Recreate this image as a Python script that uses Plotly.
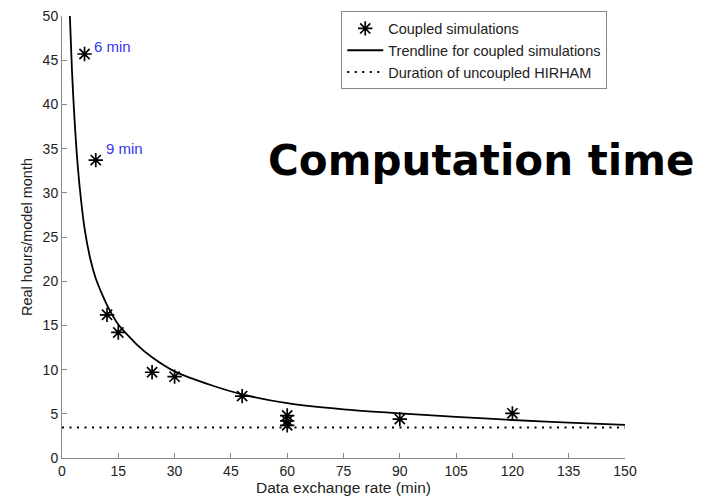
import plotly.graph_objects as go

# Coupled simulation measurements (data exchange rate in min, real hours / model month)
sim_rate = [6, 9, 12, 15, 24, 30, 48, 60, 60, 60, 90, 120]
sim_hours = [45.7, 33.7, 16.2, 14.2, 9.7, 9.2, 7.0, 4.8, 4.2, 3.7, 4.4, 5.05]

# Trendline
trend_rate = [2.1, 2.66, 3.2, 3.84, 4.72, 6.0, 7.5, 9.0, 10.5, 12, 15, 20, 24, 30, 40, 48, 60, 75, 90, 105, 120, 135, 150]
trend_hours = [50, 43.8, 39.3, 35.0, 30.6, 26.0, 22.6, 20.3, 18.7, 17.3, 15.1, 12.8, 11.4, 9.8, 8.2, 7.2, 6.2, 5.5, 5.05, 4.65, 4.3, 4.0, 3.75]

# Uncoupled HIRHAM duration
uncoupled_rate = [0, 150]
uncoupled_hours = [3.45, 3.45]

x_ticks = list(range(0, 151, 15))
y_ticks = list(range(0, 51, 5))

FONT = "Liberation Sans, Arial, Helvetica"

fig = go.Figure()
fig.add_trace(go.Scatter(
    x=sim_rate, y=sim_hours, mode="markers", name="Coupled simulations",
    marker=dict(symbol="asterisk-open", size=12, color="black",
                line=dict(color="black", width=1.7)),
    cliponaxis=False,
))
fig.add_trace(go.Scatter(
    x=trend_rate, y=trend_hours, mode="lines", name="Trendline for coupled simulations",
    line=dict(color="black", width=1.8, shape="spline", smoothing=0.6),
))
fig.add_trace(go.Scatter(
    x=uncoupled_rate, y=uncoupled_hours, mode="lines", name="Duration of uncoupled HIRHAM",
    line=dict(color="black", width=2, dash="2px,5.5px"),
))

tick_font = dict(family=FONT, size=14, color="#222")
fig.update_layout(
    width=710, height=496,
    margin=dict(l=62, r=85, t=15, b=38),
    paper_bgcolor="white", plot_bgcolor="white",
    showlegend=True,
    legend=dict(
        x=0.496, y=1.008, xanchor="left", yanchor="top",
        bgcolor="white", bordercolor="#888", borderwidth=1,
        font=dict(family=FONT, size=14.5, color="#222"),
        tracegroupgap=0, itemwidth=36,
    ),
    xaxis=dict(
        range=[0, 150], tickvals=x_ticks, ticks="inside", ticklen=5,
        tickcolor="#888", showline=True, linecolor="#888", linewidth=1,
        showgrid=False, zeroline=False, tickfont=tick_font, automargin=False,
        title=dict(text="Data exchange rate (min)",
                   font=dict(family=FONT, size=15.5, color="#222"), standoff=2),
    ),
    yaxis=dict(
        range=[0, 50], tickvals=y_ticks, ticks="inside", ticklen=5,
        tickcolor="#888", showline=True, linecolor="#888", linewidth=1,
        showgrid=False, zeroline=False, tickfont=tick_font, automargin=False,
        title=dict(text="Real hours/model month",
                   font=dict(family=FONT, size=14.5, color="#222"), standoff=6),
    ),
    annotations=[
        dict(x=7.9, y=46.6, xref="x", yref="y", text="6 min", showarrow=False,
             xanchor="left", yanchor="middle",
             font=dict(family=FONT, size=15, color="#3535ee")),
        dict(x=11.3, y=35.0, xref="x", yref="y", text="9 min", showarrow=False,
             xanchor="left", yanchor="middle",
             font=dict(family=FONT, size=15, color="#3535ee")),
        dict(x=0.744, y=0.673, xref="paper", yref="paper", text="<b>Computation time</b>",
             showarrow=False, xanchor="center", yanchor="middle",
             font=dict(family="DejaVu Sans", size=42, color="black")),
    ],
)

fig.write_html("out.html")
